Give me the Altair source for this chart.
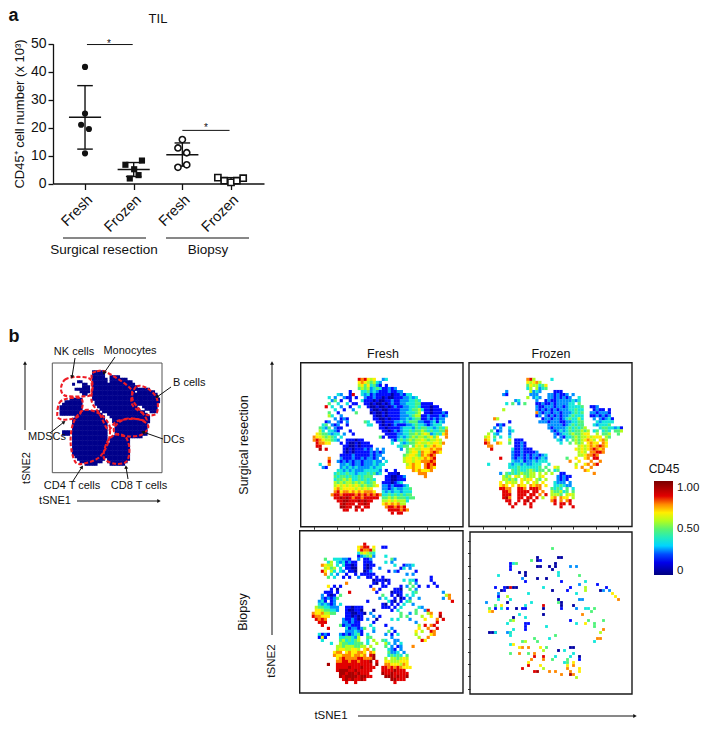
import math
import altair as alt
import pandas as pd

FONT = "Liberation Sans"

# ---------- panel a ----------
GROUP_NAMES = ["Fresh", "Frozen", "Fresh", "Frozen"]
POS = [1, 2, 3, 4]
MEAN = [23.7, 5.0, 10.3, 1.3]
SD_HI = [35.0, 7.5, 14.5, 2.1]
SD_LO = [12.3, 2.5, 6.2, 0.6]
X_SF = [1, 1, 0.92, 1.08, 1]
Y_SF = [41.7, 25.0, 21.0, 19.5, 10.8]
X_SZ = [2.17, 1.83, 2.01, 2.1, 1.92]
Y_SZ = [8.2, 6.7, 5.1, 3.0, 1.8]
X_BF = [3, 2.91, 3.09, 3.09, 2.91]
Y_BF = [15.7, 12.7, 11.0, 6.7, 5.8]
X_BZ = [3.73, 3.86, 4.0, 4.12, 4.25]
Y_BZ = [2.1, 1.0, 0.4, 1.0, 1.9]
SIG_X = [1.04, 3.0]
SIG_X2 = [1.98, 3.97]
SIG_Y = [49.7, 19.0]

# ---------- colour levels ----------
LEVELS = [0.0, 0.14, 0.26, 0.36, 0.49, 0.60, 0.70, 0.80, 0.90, 1.0]
CMAP_DOMAIN = [-0.05, 0.13, 0.255, 0.31, 0.47, 0.59, 0.70, 0.80, 0.88, 1.08]
CMAP_RANGE = ["#00007f", "#0000ff", "#0088ff", "#00e5ff", "#3cf08c", "#aaff22", "#ffee00", "#ff8800", "#ee0000", "#7a0000"]

# ---------- tSNE maps: each row lists "column:levels" runs ----------
SF_FIRST = 5
SF = [
"19:878656 27:23",
"19:67654532",
"19:56463421 28:1",
"19:45452343 27:1121 31:2",
"16:1 20:33423212 27:1121122",
"12:32 16:18 20:323121 26:1111011213 36:3",
"9:3 11:2 14:2 15:11 18:1 21:2112 25:1101001112 35:2323",
"10:24 13:1 16:1 20:3 21:11101001121122 35:23343",
"9:4 12:3 15:3 17:1 18:1 21:11010010121122 35:33344 40:1111",
"8:8 10:3 13:2 16:1 19:3 22:10010010121122 36:3343 40:111011",
"11:3 14:1 17:2 23:10010011112223 36:34453 41:110111",
"9:4 12:1 18:4 23:0100101111223 36:3345 41:11011121",
"9:5 10:3 13:2 24:10010111122 35:23455 40:112111212",
"11:2 13:1 14:21 24:1100101112 34:232344 40:1121212 47:2",
"8:12 12:21 15:2 21:43 25:11011122 33:323444 39:2 40:21123132",
"7:34 10:212 15:1 22:33 26:101012111 35:22343 40:3 41:212333",
"6:4324 11:211 26:11011112 34:3332434 41:43 43:323435",
"6:53 9:3321 16:1 27:110121 33:233434 39:45 41:4343 45:3444 48:7",
"5:654 8:43233 14:2 17:1 28:11112 33:233445 39:4565 43:2343 47:67",
"4:766 7:54543 13:3 26:4 27:1 29:111232 35:3454 39:55456 44:46 48:7",
"4:787 7:655 10:432 15:11101 20:1 30:213 33:434545 39:56545 44:565",
"5:8776 9:6 13:1 15:1001011 22:1 30:3 33:3234 37:4565 41:5656 45:657",
"5:88 14:11 15:10010111 23:1 32:334 35:4 37:46564 42:56766",
"6:9 8:8 14:10 16:10111212 25:2 27:2 33:2 35:4565 39:56 41:66767 46:7",
"14:101 17:0111112 24:1212 35:45664 40:76 42:67876",
"13:1111211 20:111212 26:2 34:456654 40:76787",
"9:7 13:2111211212 23:212 27:2 34:566565 40:67678",
"9:8 12:2 13:1212122122 23:2322 28:3 34:566566 40:77787",
"9:7 6:3 13:2232122 20:1222323 27:3 35:56766 41:7878",
"7:2 8:1 13:23232322 21:22 23:323 26:3 35:66766 41:7876",
"12:33232322 20:23 22:3333 26:2 28:1 31:1 37:76766 42:67",
"11:34334332333434 25:2 26:3 29:1110 39:777",
"11:4344343343444 28:1100112 41:7",
"11:34454533434343 28:1100111",
"11:54545545454345 27:1110123",
"11:565656565454 23:456 27:221211123",
"11:6756666565656 27:2212322334",
"11:78677676767 22:776 27:3232332333",
"10:7887888878787 23:8787 27:3343434344",
"11:889898788788 23:888 27:44545444344",
"12:88998 17:88989 22:88 27:5565655 34:53",
"13:89 15:888 19:8898 27:6767675 34:5",
"13:99 15:88 18:98 21:88 28:7887878",
"14:88 18:8 20:8 29:888878 35:7",
"30:8 32:88",
]

SZ_FIRST = 5
SZ = [
"19:7 20:85 27:3",
"19:65 21:675",
"19:465 22:5346",
"19:35 22:5234",
"12:2 20:5 21:232 28:11 30:1",
"11:21 20:2 21:22 26:2212112 34:2",
"19:5 21:23 23:2 26:22121212 36:3",
"15:2 16:3 22:2 25:1211222 32:2232 36:3",
"12:3 14:4 16:2 18:4 22:112112122 31:22 33:33 36:4",
"22:2112 26:2212212 33:33334 40:112",
"11:5 22:2 23:121 26:21212 31:2233433 41:1211 46:1",
"22:7212 26:212212 32:223434 40:22122 45:21",
"22:12 25:2121212 32:2343 36:33 40:1 41:1212 45:12",
"8:7 9:5 24:12212212 32:343353 41:2 43:2123 47:1",
"13:1 23:22212221 31:122 34:334 37:4 42:3 43:2333 47:3",
"9:1 10:21 26:2 27:222212 33:34343 37:4 41:3 42:23334",
"8:2 10:2 13:3 26:2123 29:22 31:23434 36:345 43:3443 47:323 50:1",
"7:4 9:12 13:2 14:3 27:2123 31:23434 36:4545 41:34 44:343 48:445",
"6:5 8:32 13:2 28:2123 32:34544 37:566 42:5 44:4 45:45 49:4",
"5:5 6:6 8:4 10:3 13:3 28:2 30:21 32:33 34:454 37:556 40:5666 45:54",
"5:76 8:3 13:5 15:1 16:11 29:32 32:3 34:4545 38:6765 43:675",
"5:87 9:7 10:6 13:4 15:1121 30:3 33:4 35:545 39:6766 44:76",
"6:77 15:1121 36:565 39:6 40:767 43:876",
"7:8 14:3 15:11211 20:1 35:6 36:565 39:67876 44:7",
"14:211211 20:11 22:2 36:5 37:65 40:7 41:7887",
"14:2112121 21:2212 25:3 36:5 37:567 40:7 41:87",
"10:8 14:212212 20:12 22:1232 32:4 35:6 38:67 41:88",
"14:322312 20:23 22:233 25:3 33:7 36:6 40:7 43:7",
"6:3 13:3233 17:23 19:2 20:233 23:3 26:3 35:5 38:67 41:78",
"13:3334 17:3333 21:3 22:34 25:4 28:65 35:6 37:7 40:7",
"14:43433 19:45 21:434 24:4 26:4 28:34 38:7 39:6",
"10:2 12:4 13:3434 17:5445 21:5 23:5 25:5 27:5 30:11 41:7",
"11:545 15:65 18:545 21:5 23:56 29:2 30:121 33:1",
"11:55454 17:6 18:56 20:6 22:54 25:5 29:2 30:121",
"10:6 12:5 13:65 15:5 17:6 19:5 21:65 24:6 28:3 29:222 33:2",
"10:6 11:76 14:6 16:766 20:7 21:67 23:7 25:6 28:3 29:3432 33:2",
"10:8 11:87 13:7 16:8 17:87 20:8 21:8 22:87 27:4 28:343 32:4 34:3",
"11:88 13:7 16:8 17:8 18:88 21:88 24:7 27:5 28:445 31:34 34:4",
"11:88 13:8 16:8 17:8 18:8 20:88 23:7 25:8 27:5 28:554 32:565",
"11:89 13:7 16:8 17:8 19:88 22:8 24:5 27:6 28:7 30:766 34:5",
"12:8 13:8 16:8 18:8 19:9 21:8 27:78 30:7 32:78",
"13:8 15:8 18:8 20:8 28:8 30:88 33:8",
"14:8 20:8 30:8 34:8",
]

BF_FIRST = 4
BF = [
"21:8",
"19:6 20:788 24:6 27:11",
"19:6 20:8778 24:5",
"19:3 20:565 23:43",
"19:1 20:2345 24:2 28:3",
"8:4 11:33 13:3 14:22 16:1 19:2 21:1 22:12 30:4 31:2",
"9:3 10:5 12:3 13:23 15:1211 21:112 23:1 28:3 30:2",
"7:7 8:65 10:5 12:3 14:31 16:101 21:1011 31:3 34:1 35:22 37:3",
"8:56 10:45 13:3 15:1100 21:1 22:01 26:2 33:1 34:3 36:2",
"7:8 8:6 10:53 13:32 16:110 21:012 29:1 31:2 32:1 38:1",
"8:7 10:3 12:2 15:1 18:1 20:1 21:111 24:1 35:2 37:2",
"9:4 11:3 14:1 16:1 19:2 22:1 23:1 27:1 25:1 43:1",
"24:0 25:11 27:1 28:01 38:1 34:3 36:3 37:3 43:1",
"15:7 24:1 25:0 27:1 29:1 36:4 38:2 44:1",
"9:6 11:1 13:1 23:1 27:1 28:1 33:1 35:2 37:4 39:1 42:1 45:1",
"10:1 12:0 24:7 26:1 31:1 32:10 36:4 38:2",
"8:1 9:11 12:1 16:8 25:1 30:0 31:11 33:1 37:3 38:4 47:2",
"7:2 9:101 13:4 27:4 30:1 32:01 35:3 37:3 49:7 48:5",
"7:2 8:121 11:2 12:4 26:2 28:3 31:1 33:0 34:1 36:2 39:2 47:2 49:7",
"6:2 7:31 10:1 11:2 22:1 29:3 30:1 31:0 33:1 35:3 36:4 50:8",
"6:3 7:2 8:32 10:12 13:3 27:1 28:0 30:1 32:1 34:3 37:2",
"5:5 6:44 8:33 10:22 12:2 15:1 16:1011 20:1 27:1 28:1 29:1 31:1 33:3 39:3 40:2",
"5:66 7:544 10:33 12:2 15:100110 24:0 30:1 32:3 38:4 41:2 42:8",
"4:7 5:667 8:554 11:4 15:1100110 23:2 33:4 36:2 38:4 42:5 43:7 46:8",
"4:8 5:77 7:666 15:110101 24:2 26:1 33:4 35:4 40:5 43:6 46:9",
"5:87 7:8 8:7 14:2112101 22:2 25:0 30:3 32:3 36:2 41:6 45:7 47:8",
"6:88 8:8 14:221211 24:1 38:2 45:8",
"7:8 13:4 14:122111 23:3 28:1 39:5 41:8 43:7 44:8",
"9:8 15:312212 21:4 24:3 30:2 39:6 42:7 45:8",
"15:222321 24:2 29:4 31:1 38:6 40:5 43:8 44:7",
"7:12 9:1 6:3 13:21212341 22:3 28:2 30:1 32:3 38:5 43:6 44:7",
"6:1 7:61 13:3344325 22:44 30:2 39:5 42:7",
"7:3 13:4534 17:345 22:3 24:5 27:4 28:3 31:2 32:2 41:6 40:8",
"10:3 13:5443 17:344 20:4 22:3 25:5 28:5 29:3 31:2 33:3",
"12:5 13:5455 17:54 19:45 21:5 23:5 28:4 30:2 32:12 37:7",
"12:5 13:665 16:56 18:6 19:5 21:67 24:4 29:3 30:21 33:2",
"11:6 12:77 15:676 18:67 20:76 23:7 24:6 29:4 30:223 34:2",
"11:7 12:66 14:77 16:767 19:76 21:7 23:8 24:9 29:3 30:434 33:3 35:4",
"12:678 15:77 17:7 18:78 20:87 22:77 24:9 28:5 30:5 31:54 33:56 35:5",
"12:778 15:87 17:8 18:878 21:88 23:9 25:8 28:6 29:65 31:556 34:66",
"9:9 12:88 14:8 15:88 17:8 18:8 19:88 21:88 23:8 25:9 28:7 29:76 31:66 33:5 34:76",
"12:888 15:8 16:9 17:88 19:89 21:888 24:8 27:8 28:87 30:8 31:78 33:76 35:66",
"12:8999 16:88 18:98 20:88 22:88 27:8 28:888 31:98 33:88",
"13:9989 17:98 19:98 21:88 27:9 28:889 31:88 33:88 35:8",
"13:9899 17:99 19:89 21:988 28:9 29:998 32:98 34:89",
"14:89 16:8 17:9 18:8 19:8 20:9 21:8 30:99 32:88 34:8",
"15:8 18:8 31:8",
]

BZ_FIRST = 5
BZ = [
"27:4", "", "",
"22:0 29:0 30:0",
"20:4 22:01",
"14:3 15:4 13:1 28:0",
"13:1 22:0 23:0 26:0 28:0 33:2 35:2",
"13:1 27:0",
"16:0 18:0 29:3",
"9:3 18:0 29:3 36:4",
"17:2 22:0 25:0",
"18:1 30:1 38:3",
"36:2 42:1",
"8:1 11:1 12:0 13:8 14:0 15:0 24:3 33:1 38:5 45:1",
"10:0 11:1 27:0 32:1 38:5 43:0 44:2 46:2",
"9:2 19:3 35:3 47:6",
"9:1 12:5 48:6",
"9:3 13:3 29:0 36:2 37:2 49:7",
"5:2 12:0 20:3 29:4 30:0",
"8:4 10:6 18:3 24:8 30:0 34:0",
"6:4 8:1 10:3 12:1 15:0 17:1 18:1 24:0 30:1 35:2 38:3 39:3 41:4",
"6:6 7:7 40:4",
"16:3 24:0 37:7",
"14:0 18:3",
"13:4 14:5 33:1 39:4 44:4",
"12:3 18:1 19:1 35:3 38:6 41:4",
"18:1 25:3 41:4",
"14:3 18:1 44:7",
"6:001 8:3 12:26 13:3 43:5",
"13:3 28:4",
"21:4 26:3 42:77",
"17:4 18:5 22:4 41:3",
"13:3 14:6",
"16:6 17:7 19:7 23:6 25:4 33:0 34:0",
"24:5 29:0 31:3",
"13:4 16:7 19:4 21:7 34:3",
"21:8 24:8 28:3 33:3 36:0",
"20:7 24:7 27:4 32:4 36:1",
"19:6 31:3 32:4 34:6",
"19:8 23:6 32:6 34:7",
"17:8 24:5 32:7 36:6",
"21:8 22:9 26:7 28:7 36:6 33:7",
"30:7 33:9 34:7",
"35:5",
]

# overview map: spans of navy cells per row
OV_FIRST = 3
OV = [
"16-20", "16-20", "16-20 23-26", "16-21 23-29", "10-11 16-21 23-31",
"8 12-13 16-32", "12-14 16-33", "9-14 16-33 33-38", "11-14 16-32 34-40",
"12-13 16-33 33-41", "16-33 34-41", "7-11 16-34 35-42", "5-11 17-35 35-42",
"4-11 17-34 35-41", "3-11 18-33 36-41", "3-11 19-34 37-41", "3-10 11-18 20-36 39-41",
"3-9 10-19 22-37", "9-20 23-38", "8-20 24-38", "8-21 24-38", "8-21 25-37",
"8-21 25-37", "8-21 25-37", "4-6 8-21 25-37", "4-6 8-21 25-37", "8-21 24-29 26-35",
"8-21 23-30", "8-21 23-30", "8-21 22-30", "8-21 22-30", "8-21 22-30", "8-21 22-30",
"8-21 22-30", "9-21 22-30", "10-20 22-30", "11-19 22-29", "13-17 23-28",
]

# dashed gates on the overview map (same units as the map's 0-329 axes)
GATES = {
    "NK": [(26,75),(38,50),(68,42),(108,45),(118,60),(115,95),(93,100),(53,100),(33,95)],
    "MDSC": [(15,150),(21,120),(43,107),(83,105),(91,125),(78,160),(38,170),(18,165)],
    "Mono": [(118,35),(133,25),(163,28),(233,75),(243,115),(283,170),(243,167),(193,175),(168,200),(143,155),(118,115),(121,70)],
    "B": [(238,100),(253,70),(283,75),(313,105),(313,150),(283,155),(243,130)],
    "DC": [(188,190),(218,168),(263,170),(288,190),(268,215),(223,220),(188,210)],
    "CD4": [(55,240),(63,180),(93,142),(138,150),(168,180),(173,210),(163,250),(138,285),(93,302),(68,295)],
    "CD8": [(155,285),(163,240),(188,215),(218,220),(231,255),(223,295),(188,302)],
}

W, H = 693, 715


def px(v):
    return v - 8


ONE = alt.Data(values=[{"a": 1}])


def text(s, x, y, size=12.5, angle=0, align="center", weight="normal"):
    return alt.Chart(ONE).mark_text(
        text=s, fontSize=size, font=FONT, angle=angle, align=align,
        baseline="middle", fontWeight=weight, color="#111",
    ).encode(x=alt.value(px(x)), y=alt.value(px(y)))


def seg(x1, y1, x2, y2, color="#111", width=1.0):
    return alt.Chart(ONE).mark_rule(color=color, strokeWidth=width).encode(
        x=alt.value(px(x1)), y=alt.value(px(y1)), x2=alt.value(px(x2)), y2=alt.value(px(y2)))


def arrow(x1, y1, x2, y2, size=16):
    ang = math.degrees(math.atan2(x2 - x1, -(y2 - y1))) % 360
    head = alt.Chart(ONE).mark_point(shape="triangle-up", filled=True, size=size, color="#111",
                                     angle=ang, opacity=1).encode(
        x=alt.value(px(x2)), y=alt.value(px(y2)))
    return [seg(x1, y1, x2, y2), head]


# ---------- panel a ----------
XA = alt.Scale(domain=[0.342, 4.678], range=[px(53), px(264)])
YA = alt.Scale(domain=[0, 50], range=[px(183.5), px(43.7)])
label_expr = "datum.value == 1 || datum.value == 3 ? 'Fresh' : 'Frozen'"
x_axis = alt.Axis(orient="bottom", offset=px(183.5) - H, values=POS, labelExpr=label_expr,
                  labelAngle=-45, labelFontSize=14.5, labelFont=FONT, labelColor="#111", title=None,
                  grid=False, tickSize=6, tickColor="#111", domainColor="#111", domainWidth=1.3, tickWidth=1.3,
                  labelPadding=3)
y_axis = alt.Axis(orient="left", offset=-px(53), values=[0, 10, 20, 30, 40, 50], labelFontSize=14,
                  labelFont=FONT, labelColor="#111", title=None, grid=False, tickSize=5, tickColor="#111",
                  domainColor="#111", domainWidth=1.3, tickWidth=1.3, labelPadding=2)

stats = pd.DataFrame({"x": POS, "m": MEAN, "hi": SD_HI, "lo": SD_LO})
stats["l1"] = stats.x - 0.33
stats["r1"] = stats.x + 0.33
stats["l2"] = stats.x - 0.16
stats["r2"] = stats.x + 0.16

layers = []
layers.append(alt.Chart(stats).mark_rule(opacity=0, color="#111").encode(
    x=alt.X("x:Q", scale=XA, axis=x_axis), y=alt.Y("m:Q", scale=YA, axis=y_axis)))


def xq(f):
    return alt.X(f + ":Q", scale=XA, axis=None)


def yq(f):
    return alt.Y(f + ":Q", scale=YA, axis=None)


for enc in [
    dict(x=xq("x"), y=yq("lo"), y2=alt.Y2("hi")),
    dict(x=xq("l1"), x2=alt.X2("r1"), y=yq("m")),
    dict(x=xq("l2"), x2=alt.X2("r2"), y=yq("hi")),
    dict(x=xq("l2"), x2=alt.X2("r2"), y=yq("lo")),
]:
    layers.append(alt.Chart(stats).mark_rule(color="#111", strokeWidth=1.4).encode(**enc))

sig = pd.DataFrame({"x": SIG_X, "x2": SIG_X2, "y": SIG_Y})
layers.append(alt.Chart(sig).mark_rule(color="#111", strokeWidth=1).encode(x=xq("x"), x2=alt.X2("x2"), y=yq("y")))

for xs, ys, shape, filled in [(X_SF, Y_SF, "circle", True), (X_SZ, Y_SZ, "square", True),
                              (X_BF, Y_BF, "circle", False), (X_BZ, Y_BZ, "square", False)]:
    df = pd.DataFrame({"x": xs, "y": ys})
    mark = alt.Chart(df).mark_point(shape=shape, filled=True, size=38, opacity=1,
                                    fill="#111" if filled else "white", stroke="#111",
                                    strokeWidth=0 if filled else 1.6)
    layers.append(mark.encode(x=xq("x"), y=yq("y")))

layers += [
    text("a", 8.5, 16, size=18, weight="bold", align="left"),
    text("b", 8.5, 337, size=18, weight="bold", align="left"),
    text("TIL", 158, 19, size=13),
    text("CD45⁺ cell number (x 10³)", 20, 114, size=13, angle=270),
    text("*", 109, 44, size=10),
    text("*", 206, 128, size=10),
    seg(63, 238, 146, 238),
    seg(166, 238, 249, 238),
    text("Surgical resection", 104, 250, size=13.5),
    text("Biopsy", 208, 250, size=13.5),
]

# ---------- panel b: colour ----------
COLOR = alt.Color("v:Q", scale=alt.Scale(domain=CMAP_DOMAIN, range=CMAP_RANGE, interpolate="rgb"),
                  legend=alt.Legend(orient="none", legendX=px(654), legendY=px(481), title=None,
                                    gradientLength=94, gradientThickness=19, values=[0, 0.5, 1],
                                    labelExpr="datum.value == 0 ? '0' : format(datum.value, '.2f')",
                                    labelFontSize=11.5, labelFont=FONT, labelColor="#111", labelOffset=4,
                                    gradientStrokeWidth=0))


def parse(rows, first):
    cells = []
    for i, row in enumerate(rows):
        for part in row.split():
            c, digits = part.split(":")
            for j, ch in enumerate(digits):
                cells.append({"x": int(c) + j + 0.5, "y": first + i + 0.5, "v": LEVELS[int(ch)]})
    return pd.DataFrame(cells)


def panel(rows, first, x0, x1, y0, y1, xticks=None, yticks=None, dot=10):
    xs = alt.Scale(domain=[0, 54], range=[px(x0), px(x1)])
    ys = alt.Scale(domain=[0, 54], range=[px(y0), px(y1)])
    out = [alt.Chart(parse(rows, first)).mark_square(size=dot, opacity=1).encode(
        x=alt.X("x:Q", scale=xs, axis=None), y=alt.Y("y:Q", scale=ys, axis=None), color=COLOR)]
    xa = None
    ya = None
    if xticks:
        xa = alt.Axis(orient="bottom", offset=px(y1) - H, values=xticks, labels=False, domain=False, grid=False,
                      title=None, tickSize=2.5, tickColor="#333")
    if yticks:
        ya = alt.Axis(orient="left", offset=-px(x0), values=yticks, labels=False, domain=False, grid=False,
                      title=None, tickSize=2.5, tickColor="#333")
    frame = pd.DataFrame({"a": [0], "b": [54], "c": [0], "d": [54]})
    out.append(alt.Chart(frame).mark_rect(fill="white", fillOpacity=0, stroke="#1a1a1a", strokeWidth=1.4).encode(
        x=alt.X("a:Q", scale=xs, axis=xa), x2=alt.X2("b"),
        y=alt.Y("c:Q", scale=ys, axis=ya), y2=alt.Y2("d")))
    return out


TICKS_X = [4.5, 12, 19.5, 27, 34.5, 42, 49.5]
TICKS_Y = [3, 7.1, 11.2, 15.3, 19.4, 23.5, 27.6, 31.7, 35.8, 39.9, 44, 48.1, 52.2]
layers += panel(SF, SF_FIRST, 300.7, 463, 362.7, 526.7, xticks=TICKS_X)
layers += panel(SZ, SZ_FIRST, 469, 632, 362.7, 526.5, xticks=TICKS_X)
layers += panel(BF, BF_FIRST, 299.7, 463, 530.7, 693)
layers += panel(BZ, BZ_FIRST, 470, 632, 532, 694, yticks=TICKS_Y, dot=8)

# ---------- overview map ----------
XO = alt.Scale(domain=[0, 329], range=[px(52.3), px(162)])
YO = alt.Scale(domain=[0, 329], range=[px(363), px(472.7)])
ov_cells = []
for i, row in enumerate(OV):
    for part in row.split():
        bits = part.split("-")
        a, b = int(bits[0]), int(bits[-1])
        for c in range(a, b + 1):
            ov_cells.append({"x": (c + 0.5) * 7.5, "y": (OV_FIRST + i + 0.5) * 7.5})
layers.append(alt.Chart(pd.DataFrame(ov_cells)).mark_square(size=9, opacity=1, color="#00008b").encode(
    x=alt.X("x:Q", scale=XO, axis=None), y=alt.Y("y:Q", scale=YO, axis=None)))
for name, pts in GATES.items():
    gdf = pd.DataFrame({"x": [p[0] for p in pts], "y": [p[1] for p in pts], "o": list(range(len(pts)))})
    layers.append(alt.Chart(gdf).mark_line(interpolate="cardinal-closed", color="#ee1c25", strokeWidth=2.1,
                                           strokeDash=[4, 2]).encode(
        x=alt.X("x:Q", scale=XO, axis=None), y=alt.Y("y:Q", scale=YO, axis=None), order="o:Q"))
ofr = pd.DataFrame({"a": [0], "b": [329], "c": [0], "d": [329]})
layers.append(alt.Chart(ofr).mark_rect(fill="white", fillOpacity=0, stroke="#555", strokeWidth=1).encode(
    x=alt.X("a:Q", scale=XO, axis=None), x2=alt.X2("b"), y=alt.Y("c:Q", scale=YO, axis=None), y2=alt.Y2("d")))

layers += [
    text("NK cells", 74, 352, size=11),
    text("Monocytes", 130, 351, size=11),
    text("B cells", 173, 383, size=11, align="left"),
    text("MDSCs", 47, 437, size=11),
    text("DCs", 163, 440, size=11, align="left"),
    text("CD4 T cells", 72, 486, size=11),
    text("CD8 T cells", 139, 486, size=11),
    text("tSNE1", 55, 501, size=11),
    text("tSNE2", 27, 468, size=11, angle=270),
    text("Fresh", 383, 354, size=12.5),
    text("Frozen", 551, 354, size=12.5),
    text("Surgical resection", 244, 445, size=12.5, angle=270),
    text("Biopsy", 243, 612, size=12.5, angle=270),
    text("tSNE2", 272, 661, size=11.5, angle=270),
    text("tSNE1", 331, 716, size=11.5),
    text("CD45", 664, 469, size=12),
]
for a in [(75, 358, 72, 377), (115, 357, 104, 373), (171, 387, 157, 397), (50, 433, 64, 422),
          (163, 439, 143, 432), (73, 481, 82, 467), (128, 479, 126, 467),
          (25, 430, 25, 363), (77, 501, 159, 501), (272, 635, 272, 363), (358, 716, 635, 716)]:
    layers += arrow(*a)

chart = alt.layer(*layers).resolve_scale(x="independent", y="independent").properties(
    width=W, height=H, padding=0, autosize=alt.AutoSizeParams(type="none")
).configure_view(strokeWidth=0)

chart.save("out.html", embed_options={"renderer": "svg", "actions": False})
